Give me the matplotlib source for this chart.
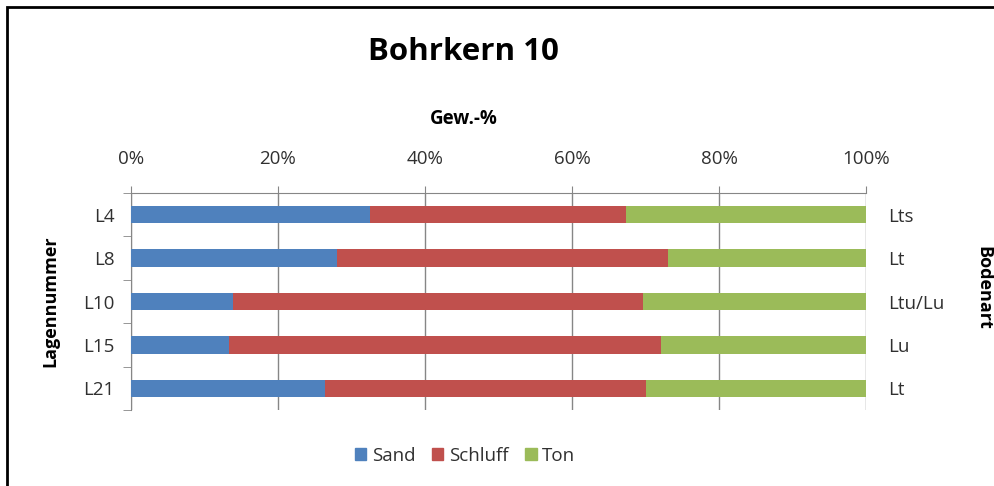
import numpy as np
import matplotlib.pyplot as plt
from matplotlib.patches import Rectangle, Patch

plt.rcParams['font.family'] = ['Open Sans', 'DejaVu Sans']

# Korngrößenverteilung je Lage (Gew.-%)
lagen = ["L4", "L8", "L10", "L15", "L21"]
bodenart = ["Lts", "Lt", "Ltu/Lu", "Lu", "Lt"]
sand = [32.5, 28.0, 13.9, 13.3, 26.4]
schluff = [34.8, 45.1, 55.8, 58.8, 43.7]
ton = [32.7, 26.9, 30.3, 27.9, 29.9]

farben = {"Sand": "#4F81BD", "Schluff": "#C0504D", "Ton": "#9BBB59"}
grau = "#868686"
text = "#303030"

fig = plt.figure(figsize=(9.94, 4.86), dpi=100)
ax = fig.add_axes([131/994, 1-410/486, 735/994, 217/486])

y = np.arange(len(lagen))
links = np.zeros(len(lagen))
for name, werte in [("Sand", sand), ("Schluff", schluff), ("Ton", ton)]:
    ax.barh(y, werte, left=links, height=0.4, color=farben[name], zorder=3)
    links = links + np.array(werte)

ax.set_xlim(0, 100)
ax.set_ylim(len(lagen) - 0.5, -0.5)

# x-Achse oben
ax.xaxis.tick_top()
ax.set_xticks(np.arange(0, 101, 20))
ax.set_xticklabels([f"{v}%" for v in range(0, 101, 20)], fontsize=13.5, color=text)
ax.tick_params(axis="x", length=5, color=grau, pad=13)
ax.grid(axis="x", color=grau, linewidth=1, zorder=0)

# y-Achse links
ax.set_yticks(y)
ax.set_yticklabels(lagen, fontsize=13.5, color=text)
ax.set_yticks(np.arange(-0.5, len(lagen), 1), minor=True)
ax.tick_params(axis="y", which="major", length=0, pad=12)
ax.tick_params(axis="y", which="minor", length=6, color=grau)

for s in ["right", "bottom"]:
    ax.spines[s].set_visible(False)
for s in ["left", "top"]:
    ax.spines[s].set_color(grau)

# Bodenart rechts
ax2 = ax.twinx()
ax2.set_ylim(ax.get_ylim())
ax2.set_yticks(y)
ax2.set_yticklabels(bodenart, fontsize=13.5, color=text)
ax2.tick_params(axis="y", length=0, pad=16)
for s in ax2.spines.values():
    s.set_visible(False)

fig.text(463/994, 1-52/486, "Bohrkern 10", fontsize=22.5, fontweight="bold",
         ha="center", va="center")
fig.text(464/994, 1-119/486, "Gew.-%", fontsize=13.5, fontweight="bold",
         ha="center", va="center")
fig.text(50/994, 1-301/486, "Lagennummer", fontsize=13, fontweight="bold",
         ha="center", va="center", rotation=90)
fig.text(983/994, 1-288/486, "Bodenart", fontsize=13, fontweight="bold",
         ha="center", va="center", rotation=-90)

handles = [Patch(color=farben[n]) for n in ["Sand", "Schluff", "Ton"]]
fig.legend(handles, ["Sand", "Schluff", "Ton"], loc="center",
           bbox_to_anchor=(465/994, 1-456/486), ncol=3, frameon=False,
           fontsize=13.5, handlelength=0.6, handleheight=0.6,
           handletextpad=0.3, columnspacing=0.9, labelcolor=text)

# Rahmen
fig.patches.append(Rectangle((7/994, -0.05), 1.0, 1-7/486+0.05,
                             transform=fig.transFigure, fill=False,
                             edgecolor="black", linewidth=2))

fig.savefig("out.png", dpi=100)
